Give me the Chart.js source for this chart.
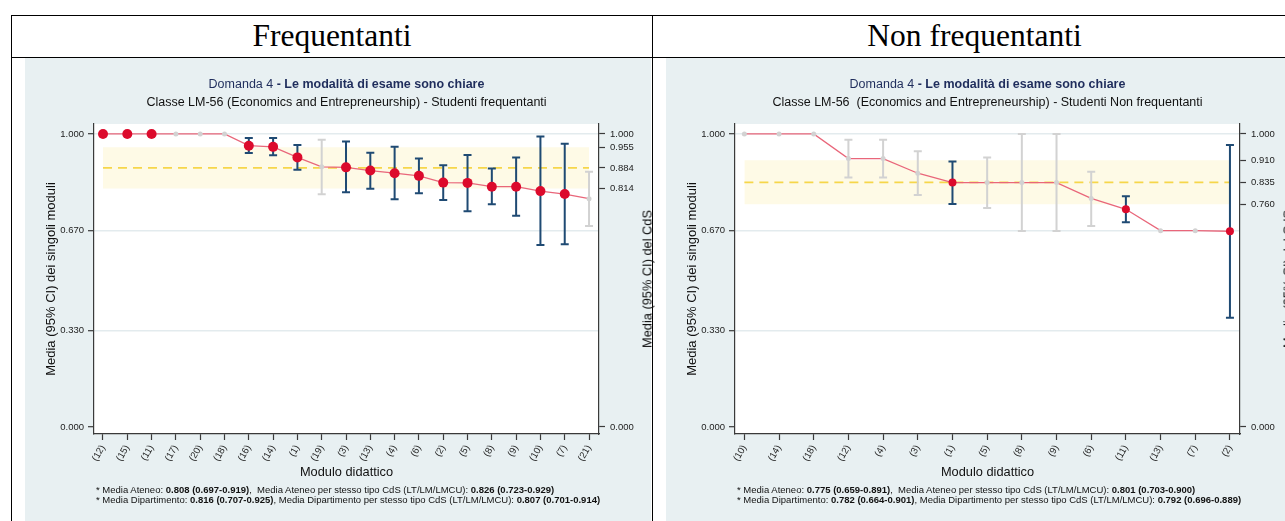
<!DOCTYPE html>
<html>
<head>
<meta charset="utf-8">
<script src="https://cdn.jsdelivr.net/npm/chart.js@4.4.0/dist/chart.umd.min.js"></script>
<style>
    body { margin: 0; width: 1285px; height: 521px; overflow: hidden; position: relative; background: #fff; font-family: "Liberation Sans", Arial, sans-serif; }
    .rule { position: absolute; background: #000; }
    .head { position: absolute; top: 15px; height: 42px; line-height: 42px; text-align: center; font-family: "Liberation Serif", "Times New Roman", serif; font-size: 31.5px; color: #000; }
    .panel { position: absolute; top: 58px; height: 463px; background: #e8f0f2; }
    .panel canvas { position: absolute; left: 0; top: 0; }
    .t1, .t2 { position: absolute; left: 69px; width: 505px; text-align: center; white-space: pre; font-size: 12.5px; line-height: 16px; }
    .t1 { top: 18px; color: #1f2d5c; }
    .t2 { top: 36px; color: #111; }
    .ytitle2 { position: absolute; left: 622px; top: 221px; transform: translate(-50%, -50%) rotate(-90deg); white-space: nowrap; font-size: 12.8px; color: #111; }
    .notes { position: absolute; left: 71px; top: 427px; font-size: 9.5px; line-height: 10px; color: #111; white-space: pre; }
</style>
</head>
<body>

<div class="rule" style="left:11px; top:14.5px; width:1285px; height:1.5px"></div>
<div class="rule" style="left:11px; top:56.5px; width:1285px; height:1.5px"></div>
<div class="rule" style="left:10.5px; top:14.5px; width:1.5px; height:520px"></div>
<div class="rule" style="left:651.5px; top:14.5px; width:1.5px; height:520px"></div>

<div class="head" style="left:12px; width:640px">Frequentanti</div>
<div class="head" style="left:653px; width:643px">Non frequentanti</div>

<div class="panel" style="left:25px; width:626px">
    <canvas id="freqChart" width="640" height="463"></canvas>
    <div class="t1">Domanda 4<b> - Le modalità di esame sono chiare</b></div>
    <div class="t2">Classe LM-56 (Economics and Entrepreneurship) - Studenti frequentanti</div>
    <div class="ytitle2">Media (95% CI) del CdS</div>
    <div class="notes">* Media Ateneo: <b>0.808 (0.697-0.919)</b>,  Media Ateneo per stesso tipo CdS (LT/LM/LMCU): <b>0.826 (0.723-0.929)</b>
* Media Dipartimento: <b>0.816 (0.707-0.925)</b>, Media Dipartimento per stesso tipo CdS (LT/LM/LMCU): <b>0.807 (0.701-0.914)</b></div>
</div>

<div class="panel" style="left:666px; width:640px">
    <canvas id="nonFreqChart" width="640" height="463"></canvas>
    <div class="t1">Domanda 4<b> - Le modalità di esame sono chiare</b></div>
    <div class="t2">Classe LM-56  (Economics and Entrepreneurship) - Studenti Non frequentanti</div>
    <div class="ytitle2">Media (95% CI) del CdS</div>
    <div class="notes">* Media Ateneo: <b>0.775 (0.659-0.891)</b>,  Media Ateneo per stesso tipo CdS (LT/LM/LMCU): <b>0.801 (0.703-0.900)</b>
* Media Dipartimento: <b>0.782 (0.664-0.901)</b>, Media Dipartimento per stesso tipo CdS (LT/LM/LMCU): <b>0.792 (0.696-0.889)</b></div>
</div>

<script>
// Data - students attending
const freqLabels = ['(12)', '(15)', '(11)', '(17)', '(20)', '(18)', '(16)', '(14)', '(1)', '(19)', '(3)', '(13)', '(4)', '(6)', '(2)', '(5)', '(8)', '(9)', '(10)', '(7)', '(21)'];
const freqMean = [1.000, 1.000, 1.000, 1.000, 1.000, 1.000, 0.960, 0.956, 0.920, 0.888, 0.886, 0.875, 0.866, 0.857, 0.834, 0.833, 0.820, 0.820, 0.805, 0.795, 0.779];
const freqLow = [null, null, null, null, null, null, 0.935, 0.927, 0.878, 0.794, 0.801, 0.813, 0.777, 0.798, 0.775, 0.736, 0.760, 0.721, 0.621, 0.624, 0.686];
const freqHigh = [null, null, null, null, null, null, 0.986, 0.986, 0.962, 0.980, 0.974, 0.936, 0.956, 0.916, 0.893, 0.928, 0.882, 0.920, 0.991, 0.967, 0.871];
const freqReliable = [1, 1, 1, 0, 0, 0, 1, 1, 1, 0, 1, 1, 1, 1, 1, 1, 1, 1, 1, 1, 0];
const freqCds = [0.884, 0.814, 0.955]; // mean, low, high

// Data - students not attending
const nonFreqLabels = ['(10)', '(14)', '(18)', '(12)', '(4)', '(3)', '(1)', '(5)', '(8)', '(9)', '(6)', '(11)', '(13)', '(7)', '(2)'];
const nonFreqMean = [1.000, 1.000, 1.000, 0.916, 0.916, 0.866, 0.834, 0.834, 0.834, 0.834, 0.780, 0.743, 0.670, 0.670, 0.668];
const nonFreqLow = [null, null, null, 0.851, 0.851, 0.792, 0.761, 0.747, 0.669, 0.669, 0.686, 0.699, null, null, 0.373];
const nonFreqHigh = [null, null, null, 0.980, 0.980, 0.941, 0.906, 0.920, 1.000, 1.000, 0.871, 0.787, null, null, 0.962];
const nonFreqReliable = [0, 0, 0, 0, 0, 0, 1, 0, 0, 0, 0, 1, 0, 0, 1];
const nonFreqCds = [0.835, 0.760, 0.910];

const leftTicks = [0, 0.33, 0.67, 1];

const FONT = '"Liberation Sans", Arial, sans-serif';
const RED = '#dc0a2c';
const NAVY = '#1f4a73';
const GRAY = '#d2d2d2';
const AXIS = '#3a3a3a';

// white plot region
const plotBg = {
    id: 'plotBg',
    beforeDraw(chart) {
        const { ctx, chartArea: a } = chart;
        ctx.save();
        ctx.fillStyle = '#fff';
        ctx.fillRect(a.left, a.top, a.right - a.left, a.bottom - a.top);
        ctx.restore();
    }
};

// confidence interval whiskers, drawn just under the module line
const ciBars = {
    id: 'ciBars',
    beforeDatasetDraw(chart, args) {
        const ds = chart.data.datasets[args.index];
        if (!ds.ciLow) return;
        const { ctx, scales: { x, y } } = chart;
        ctx.save();
        ctx.lineWidth = 2;
        ds.ciLow.forEach((lo, i) => {
            if (lo === null) return;
            const px = x.getPixelForValue(i);
            const pLo = y.getPixelForValue(lo);
            const pHi = y.getPixelForValue(ds.ciHigh[i]);
            ctx.strokeStyle = ds.ciReliable[i] ? NAVY : GRAY;
            ctx.beginPath();
            ctx.moveTo(px, pLo);
            ctx.lineTo(px, pHi);
            ctx.moveTo(px - 4, pLo);
            ctx.lineTo(px + 4, pLo);
            ctx.moveTo(px - 4, pHi);
            ctx.lineTo(px + 4, pHi);
            ctx.stroke();
        });
        ctx.restore();
    }
};

function makeChart(id, labels, mean, low, high, reliable, cds, xMin, xMax, dotRadius) {
    const last = labels.length - 1;
    const tickFont = { family: FONT, size: 9.5 };

    return new Chart(document.getElementById(id), {
        type: 'line',
        data: {
            datasets: [
                {
                    data: mean.map((v, i) => ({ x: i, y: v })),
                    borderColor: '#e9667a',
                    borderWidth: 1.3,
                    pointRadius: reliable.map(r => r ? dotRadius : 2.5),
                    pointBackgroundColor: reliable.map(r => r ? RED : GRAY),
                    pointBorderWidth: 0,
                    ciLow: low,
                    ciHigh: high,
                    ciReliable: reliable,
                    order: 1
                },
                {
                    data: [{ x: 0, y: cds[0] }, { x: last, y: cds[0] }],
                    borderColor: '#f6d64a',
                    borderWidth: 1.8,
                    borderDash: [9, 6],
                    pointRadius: 0,
                    order: 2
                },
                {
                    data: [{ x: 0, y: cds[2] }, { x: last, y: cds[2] }],
                    borderColor: 'rgba(0,0,0,0)',
                    pointRadius: 0,
                    fill: false,
                    order: 3
                },
                {
                    data: [{ x: 0, y: cds[1] }, { x: last, y: cds[1] }],
                    borderColor: 'rgba(0,0,0,0)',
                    backgroundColor: '#fefae6',
                    pointRadius: 0,
                    fill: '-1',
                    order: 3
                }
            ]
        },
        options: {
            responsive: false,
            animation: false,
            events: [],
            layout: { padding: { left: 0, right: 0, top: 66, bottom: 24 } },
            plugins: {
                legend: { display: false },
                tooltip: { enabled: false }
            },
            scales: {
                x: {
                    type: 'linear',
                    min: xMin,
                    max: xMax,
                    afterBuildTicks: s => { s.ticks = labels.map((_, i) => ({ value: i })); },
                    afterFit: s => { s.height = 63; },
                    ticks: {
                        callback: v => labels[v],
                        autoSkip: false,
                        minRotation: 60,
                        maxRotation: 60,
                        padding: 3,
                        color: '#222',
                        font: tickFont
                    },
                    grid: { drawOnChartArea: false, tickLength: 6, tickColor: AXIS, tickWidth: 1.2 },
                    border: { color: AXIS, width: 1.2 },
                    title: {
                        display: true,
                        text: 'Modulo didattico',
                        color: '#111',
                        font: { family: FONT, size: 12.8 },
                        padding: { top: 0, bottom: 16.5 }
                    }
                },
                y: {
                    position: 'left',
                    min: -0.024,
                    max: 1.034,
                    afterBuildTicks: s => { s.ticks = leftTicks.map(v => ({ value: v })); },
                    afterFit: s => { s.width = 69; },
                    ticks: {
                        callback: v => v.toFixed(3),
                        autoSkip: false,
                        padding: 4,
                        color: '#222',
                        font: tickFont
                    },
                    grid: {
                        color: c => (c.tick && c.tick.value === 0) ? 'rgba(0,0,0,0)' : '#e3ebee',
                        lineWidth: 1.4,
                        tickLength: 6,
                        tickColor: AXIS,
                        tickWidth: 1.2
                    },
                    border: { color: AXIS, width: 1.2 },
                    title: {
                        display: true,
                        text: 'Media (95% CI) dei singoli moduli',
                        color: '#111',
                        font: { family: FONT, size: 13 },
                        padding: { top: 19, bottom: 0 }
                    }
                },
                y2: {
                    position: 'right',
                    min: -0.024,
                    max: 1.034,
                    afterBuildTicks: s => { s.ticks = [0, cds[1], cds[0], cds[2], 1].map(v => ({ value: v })); },
                    afterFit: s => { s.width = 66; },
                    ticks: {
                        callback: v => v.toFixed(3),
                        autoSkip: false,
                        padding: 5,
                        color: '#222',
                        font: tickFont
                    },
                    grid: { drawOnChartArea: false, tickLength: 6, tickColor: AXIS, tickWidth: 1.2 },
                    border: { color: AXIS, width: 1.2 }
                }
            }
        },
        plugins: [plotBg, ciBars]
    });
}

makeChart('freqChart', freqLabels, freqMean, freqLow, freqHigh, freqReliable, freqCds, -0.37, 20.41, 5);
makeChart('nonFreqChart', nonFreqLabels, nonFreqMean, nonFreqLow, nonFreqHigh, nonFreqReliable, nonFreqCds, -0.27, 14.29, 4);
</script>
</body>
</html>
